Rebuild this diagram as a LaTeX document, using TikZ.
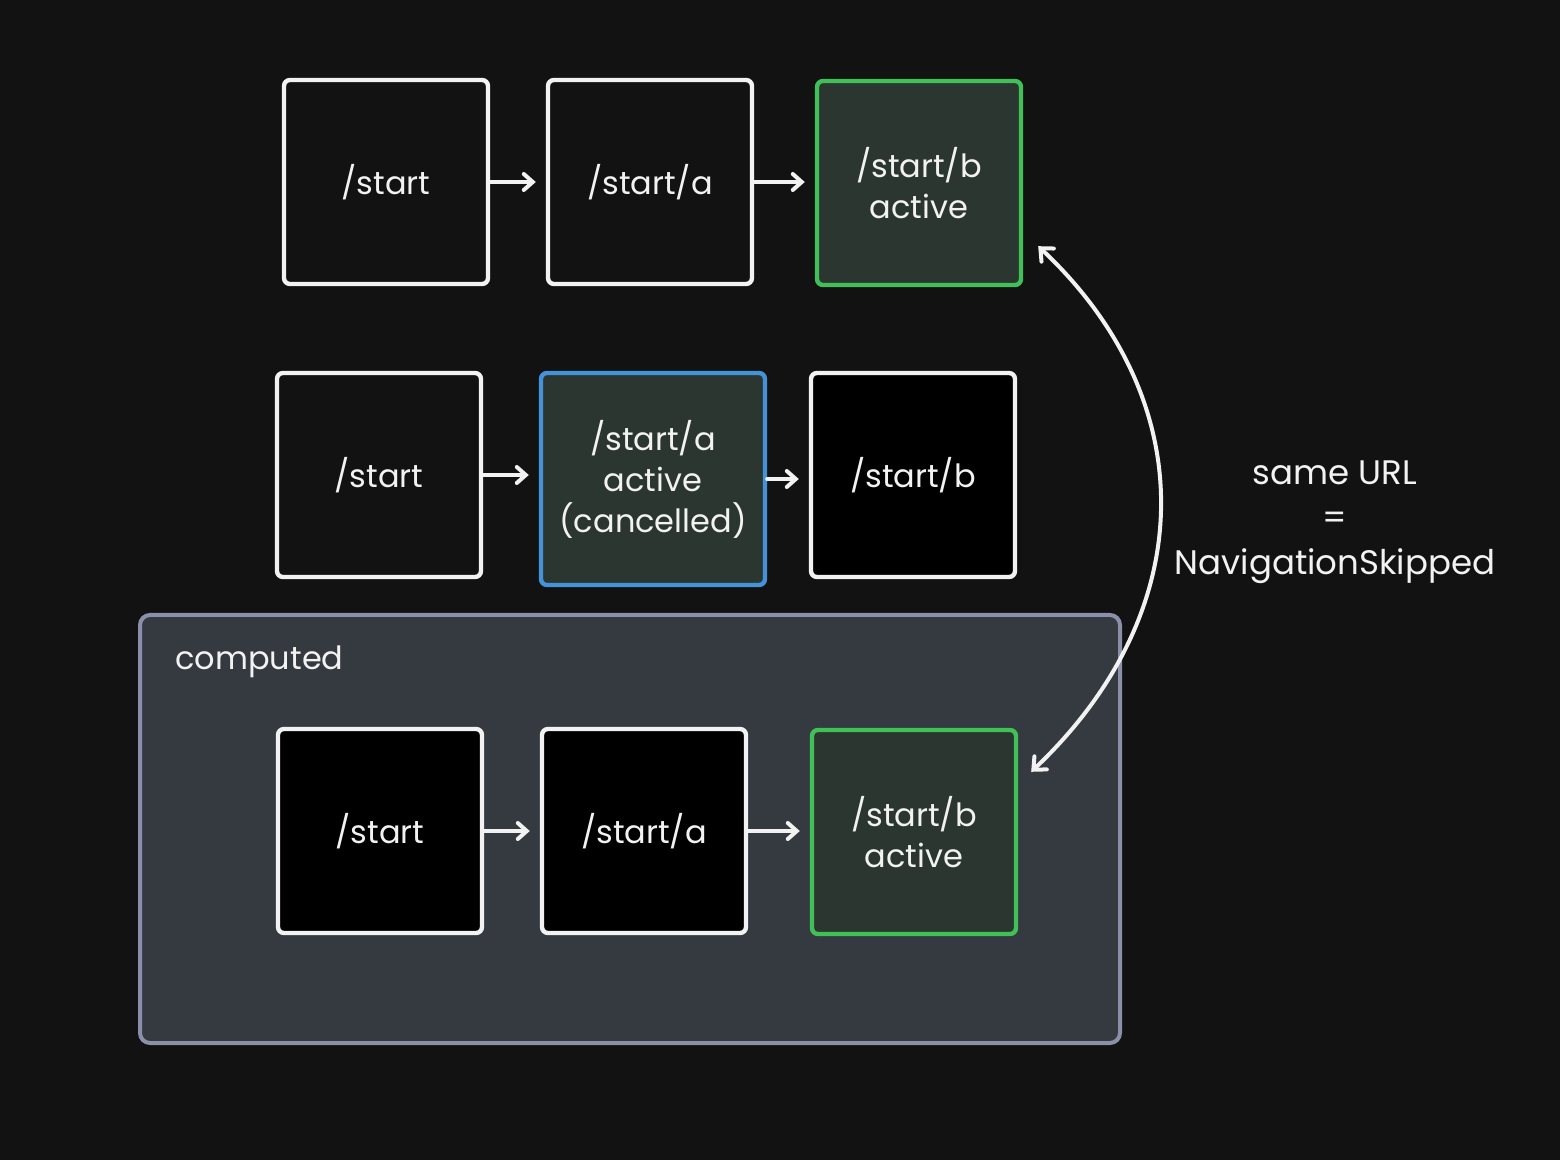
\documentclass[tikz,border=0pt]{standalone}
\usepackage{fontspec}
\setmainfont{Poppins}
\usetikzlibrary{arrows.meta,positioning}
\definecolor{bg}{HTML}{121212}
\definecolor{ink}{HTML}{F2F2F2}
\definecolor{okfill}{HTML}{2B3631}
\definecolor{okline}{HTML}{40C057}
\definecolor{blueline}{HTML}{4493D8}
\definecolor{grpfill}{HTML}{343A40}
\definecolor{grpline}{HTML}{8C8FAA}
\tikzset{
  box/.style={draw=ink,line width=2.2pt,rounded corners=3pt,minimum width=102pt,minimum height=102pt,
    text=ink,align=center,font=\fontsize{16}{20.5}\selectfont,fill=bg},
  dark/.style={fill=black},
  ok/.style={draw=okline,fill=okfill},
  arr/.style={draw=ink,line width=2pt,line cap=round,-{Straight Barb[length=4.5pt,width=8pt,line cap=round]},shorten >=5pt}
}
\begin{document}
\begin{tikzpicture}[x=0.5pt,y=-0.5pt]
\fill[bg] (0,0) rectangle (1560,1160);
% group
\node[draw=grpline,fill=grpfill,line width=2pt,rounded corners=5pt,minimum width=490pt,minimum height=214pt] (grp) at (630,829) {};
\node[anchor=west,inner sep=0pt,text=ink,font=\fontsize{16}{18}\selectfont] (cmp) at (175,662) {computed};
% first navigation
\node[box] (a1) at (386,182) {/start};
\node[box] (a2) at (650,182) {/start/a};
\node[box,ok] (a3) at (919,183) {/start/b\\active};
% second navigation
\node[box] (b1) at (379,475) {/start};
\node[box,fill=okfill,draw=blueline,minimum width=112pt,minimum height=106pt] (b2) at (653,479) {/start/a\\active\\(cancelled)};
\node[box,dark] (b3) at (913,475) {/start/b};
% computed
\node[box,dark] (c1) at (380,831) {/start};
\node[box,dark] (c2) at (644,831) {/start/a};
\node[box,ok] (c3) at (914,832) {/start/b\\active};
\foreach \p/\q in {a1/a2,a2/a3,b1/b2,b2/b3,c1/c2,c2/c3}\draw[arr] (\p.east)--(\p.east-|\q.west);
\draw[draw=ink,line width=2pt,line cap=round,{Straight Barb[length=5pt,width=9pt,line cap=round]}-{Straight Barb[length=5pt,width=9pt,line cap=round]}]
  ([xshift=7.5pt,yshift=20.5pt]a3.south east) .. controls (1202,400) and (1202,610) .. ([xshift=6.5pt,yshift=-22pt]c3.north east);
\node[text=ink,align=center,font=\fontsize{17}{22.5}\selectfont] (note) at (1335,522) {same URL\\=\\NavigationSkipped};
\end{tikzpicture}
\end{document}
